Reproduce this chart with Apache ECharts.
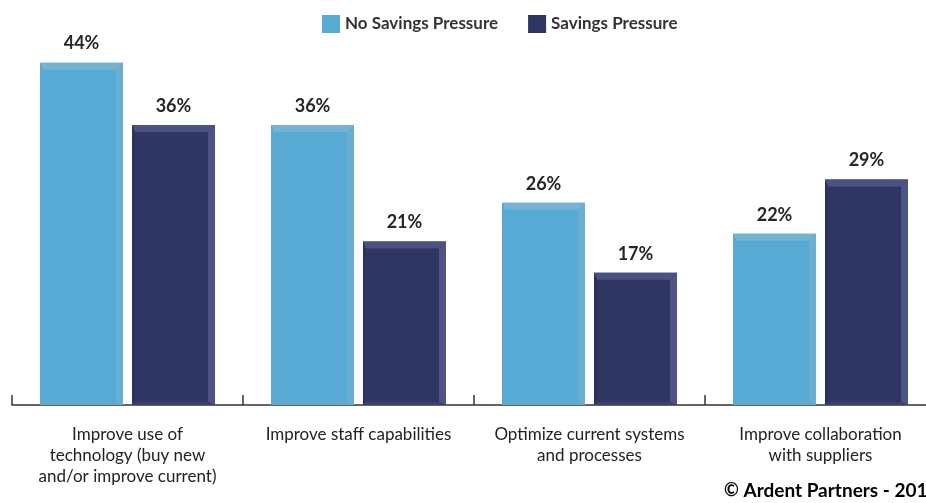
<!DOCTYPE html>
<html>
<head>
<meta charset="utf-8">
<script src="https://cdn.jsdelivr.net/npm/echarts@6/dist/echarts.min.js"></script>
<style>
  html, body { margin: 0; padding: 0; background: #fff; }
  #chart { width: 926px; height: 503px; }
</style>
</head>
<body>
<div id="chart"></div>
<script>
// Initiatives and the share of respondents choosing each one
const categories = [
  'Improve use of\ntechnology (buy new\nand/or improve current)',
  'Improve staff capabilities',
  'Optimize current systems\nand processes',
  'Improve collaboration\nwith suppliers'
];
const seriesNames = ['No Savings Pressure', 'Savings Pressure'];
const noPressure = [44, 36, 26, 22];
const pressure = [36, 21, 17, 29];

const palette = [
  { main: '#57aad3', top: '#74b3d1', side: '#6aafd1', left: '#5aa7cf', bottom: '#5fa9cf' },
  { main: '#2f3663', top: '#4b5282', side: '#4d5384', left: '#2c325e', bottom: '#3a4170' }
];

const BAR_RATIO = 83 / 231;
const GAP_RATIO = 9 / 231;

// Bevelled edges laid over each bar, positioned from the same category/value scale
function bevelSeries(values, idx) {
  const c = palette[idx];
  return {
    type: 'custom',
    silent: true,
    z: 3,
    data: values.map((v, i) => [i, v]),
    renderItem: function (params, api) {
      const cat = api.value(0);
      const top = api.coord([cat, api.value(1)]);
      const base = api.coord([cat, 0]);
      const band = api.size([1, 0])[0];
      const w = band * BAR_RATIO;
      const g = band * GAP_RATIO;
      const x0 = idx === 0 ? top[0] - g / 2 - w : top[0] + g / 2;
      const x1 = x0 + w;
      const y0 = top[1];
      const y1 = base[1];
      const b = 7;
      return {
        type: 'group',
        children: [
          { type: 'polygon', shape: { points: [[x0, y0], [x1, y0], [x1 - b, y0 + b], [x0 + 3, y0 + b]] }, style: { fill: c.top } },
          { type: 'polygon', shape: { points: [[x1, y0], [x1, y1], [x1 - b, y1 - 3], [x1 - b, y0 + b]] }, style: { fill: c.side } },
          { type: 'polygon', shape: { points: [[x0, y0], [x0 + 3, y0 + b], [x0 + 3, y1 - 3], [x0, y1]] }, style: { fill: c.left } },
          { type: 'polygon', shape: { points: [[x0, y1], [x0 + 3, y1 - 3], [x1 - b, y1 - 3], [x1, y1]] }, style: { fill: c.bottom } }
        ]
      };
    }
  };
}

const chart = echarts.init(document.getElementById('chart'));

const FONT = 'Lato, "Open Sans", sans-serif';
const valueLabel = {
  show: true, position: 'top', distance: 10, formatter: '{c}%',
  fontSize: 18, fontWeight: 'bold', color: '#262626', fontFamily: FONT
};

chart.setOption({
  animation: false,
  textStyle: { fontFamily: FONT },
  legend: {
    top: 10,
    left: 317,
    itemWidth: 18,
    itemHeight: 18,
    itemGap: 30,
    icon: 'rect',
    data: seriesNames,
    textStyle: { fontSize: 17, fontWeight: 'bold', color: '#333', fontFamily: FONT }
  },
  grid: {
    left: 12,
    top: 16,
    width: 924,
    height: 389,
    outerBoundsMode: 'none',
    containLabel: false
  },
  xAxis: {
    type: 'category',
    data: categories,
    axisLine: { show: true, lineStyle: { color: '#333', width: 1.5 } },
    axisTick: { show: true, inside: true, length: 10, lineStyle: { color: '#333', width: 1.5 } },
    axisLabel: { interval: 0, margin: 19, fontSize: 17, lineHeight: 21, color: '#222', fontFamily: FONT }
  },
  yAxis: {
    type: 'value',
    min: 0,
    max: 50,
    show: false,
    splitLine: { show: false }
  },
  series: [
    {
      name: seriesNames[0],
      type: 'bar',
      data: noPressure,
      barWidth: 83,
      barGap: '10.8%',
      itemStyle: { color: palette[0].main },
      label: valueLabel
    },
    {
      name: seriesNames[1],
      type: 'bar',
      data: pressure,
      barWidth: 83,
      barGap: '10.8%',
      itemStyle: { color: palette[1].main },
      label: valueLabel
    },
    bevelSeries(noPressure, 0),
    bevelSeries(pressure, 1)
  ],
  graphic: [
    {
      type: 'text',
      left: 724,
      top: 481,
      style: {
        text: '{c|©}{a| Ardent}{p| Partners - 2015}',
        rich: {
          c: { fontSize: 18, fontWeight: 'bold', color: '#333', fontFamily: FONT },
          a: { fontSize: 19, fontWeight: 'bold', color: '#2b6ea8', fontFamily: FONT },
          p: { fontSize: 19, fontWeight: 'bold', color: '#333', fontFamily: FONT }
        }
      }
    }
  ]
});
</script>
</body>
</html>
